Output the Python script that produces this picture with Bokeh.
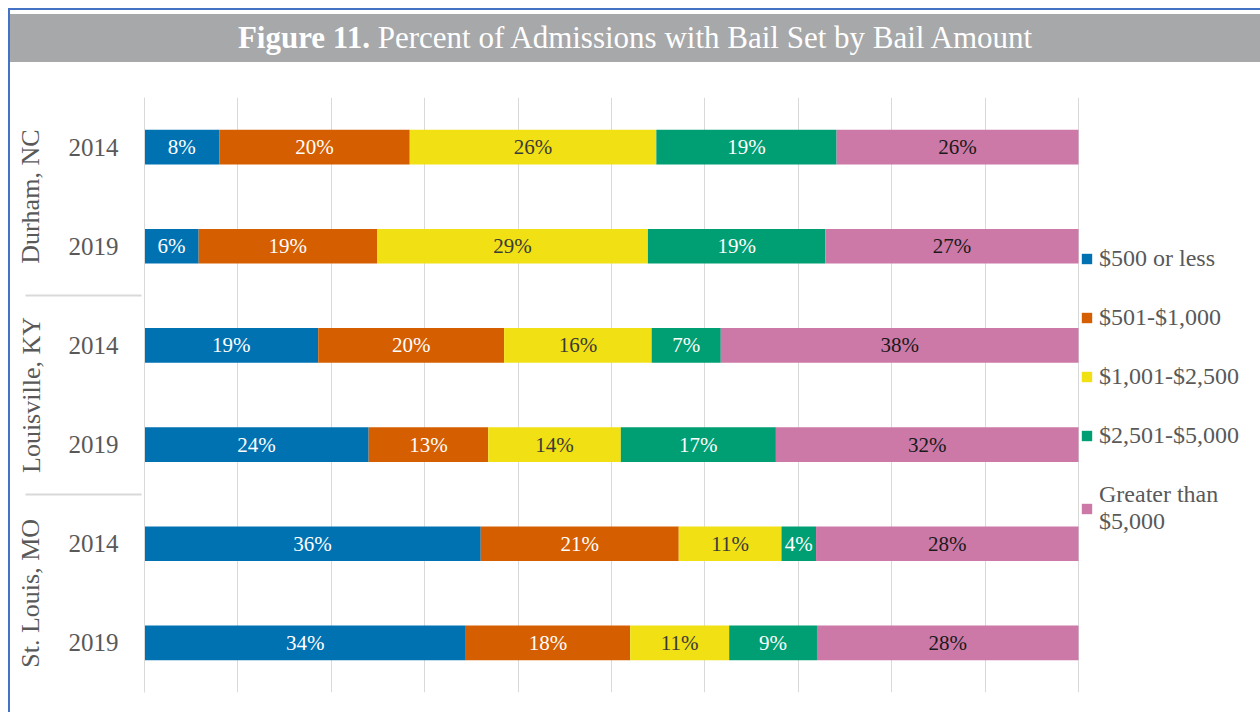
from bokeh.plotting import figure
from bokeh.models import (ColumnDataSource, FactorRange, Range1d, Legend, LegendItem,
                          Div, FixedTicker)
from bokeh.layouts import column
from bokeh.core.properties import value
from bokeh.embed import file_html
from bokeh.resources import INLINE

cities = ["Durham, NC", "Louisville, KY", "St. Louis, MO"]
years = ["2014", "2019"]
bands = ["$500 or less", "$501-$1,000", "$1,001-$2,500", "$2,501-$5,000",
         "Greater than\n$5,000"]
grid_ticks = [0, 10, 20, 30, 40, 50, 60, 70, 80, 90, 100]

# percent of admissions, rows: Durham 2014, Durham 2019, Louisville 2014,
# Louisville 2019, St. Louis 2014, St. Louis 2019
b500 = [8.0, 5.8, 18.6, 24.0, 36.0, 34.4]
b1000 = [20.4, 19.1, 19.9, 12.8, 21.2, 17.6]
b2500 = [26.4, 29.0, 15.8, 14.2, 11.0, 10.6]
b5000 = [19.3, 19.0, 7.4, 16.6, 3.7, 9.4]
bgt = [25.9, 27.1, 38.3, 32.4, 28.1, 28.0]

colors = ["#0072B2", "#D55E00", "#F0E014", "#009E73", "#CC79A7"]
label_colors = ["white", "white", "#3a3a3a", "white", "#1a1a1a"]
FONT = "Liberation Serif"

factors = [(c, y) for c in cities for y in years]
series = [b500, b1000, b2500, b5000, bgt]
keys = ["b500", "b1000", "b2500", "b5000", "bgt"]

data = {"y": factors}
for k, s in zip(keys, series):
    data[k] = s
source = ColumnDataSource(data)

BAR_PX = 934      # pixel width of the 0-100% span
FRAME_W = 1114    # frame also holds the legend to the right of the bars

p = figure(frame_width=FRAME_W, frame_height=595,
           x_range=Range1d(0, 100 * FRAME_W / BAR_PX),
           y_range=FactorRange(*reversed(factors), group_padding=0, range_padding=0),
           output_backend="svg", toolbar_location=None,
           min_border_left=134, min_border_right=0,
           min_border_top=35, min_border_bottom=20)
p.outline_line_color = None
p.background_fill_color = "white"
p.border_fill_color = "white"

renderers = p.hbar_stack(keys, y="y", height=0.35, fill_color=colors,
                         line_color=None, source=source)

# data labels
left = [0.0] * len(factors)
for s, lc in zip(series, label_colors):
    mids = [l + v / 2 for l, v in zip(left, s)]
    txt = [f"{round(v)}%" for v in s]
    src = ColumnDataSource(dict(x=mids, y=factors, t=txt))
    p.text(x="x", y="y", text="t", source=src, text_align="center",
           text_baseline="middle", text_font=value(FONT),
           text_font_size="21px", text_color=lc)
    left = [l + v for l, v in zip(left, s)]

legend = Legend(items=[LegendItem(label=b, renderers=[r]) for b, r in zip(bands, renderers)],
                location=(936, 157))
legend.label_text_font = FONT
legend.label_text_font_size = "24px"
legend.label_text_color = "#595959"
legend.glyph_width = 13
legend.glyph_height = 13
legend.label_standoff = 6
legend.spacing = 32
legend.padding = 2
legend.margin = 0
legend.border_line_color = None
legend.background_fill_alpha = 0
p.add_layout(legend, "center")

p.xaxis.visible = False
p.xgrid.ticker = FixedTicker(ticks=grid_ticks)
p.xgrid.grid_line_color = "#d9d9d9"
p.ygrid.visible = False

ax = p.yaxis[0]
ax.major_label_text_font = FONT
ax.major_label_text_font_size = "25px"
ax.major_label_text_color = "#595959"
ax.group_text_font = FONT
ax.group_text_font_size = "26px"
ax.group_text_color = "#595959"
ax.group_text_font_style = "normal"
ax.major_tick_line_color = None
ax.axis_line_color = "#d9d9d9"
ax.separator_line_color = "#d9d9d9"
ax.major_label_standoff = 20

title = Div(text=('<div style="background:#a7a8aa;color:white;font-family:\'Liberation Serif\';'
                  'font-size:31px;text-align:center;height:48px;line-height:48px;width:1250px;">'
                  '<b>Figure 11.</b> Percent of Admissions with Bail Set by Bail Amount</div>'),
            width=1250, height=48, margin=(4, 0, 0, 0))

layout = column(title, p, spacing=0,
                styles={"margin-left": "8px", "margin-top": "8px",
                        "border-left": "2px solid #4472C4",
                        "border-top": "2px solid #4472C4"})

open("out.html", "w").write(file_html(layout, INLINE))
